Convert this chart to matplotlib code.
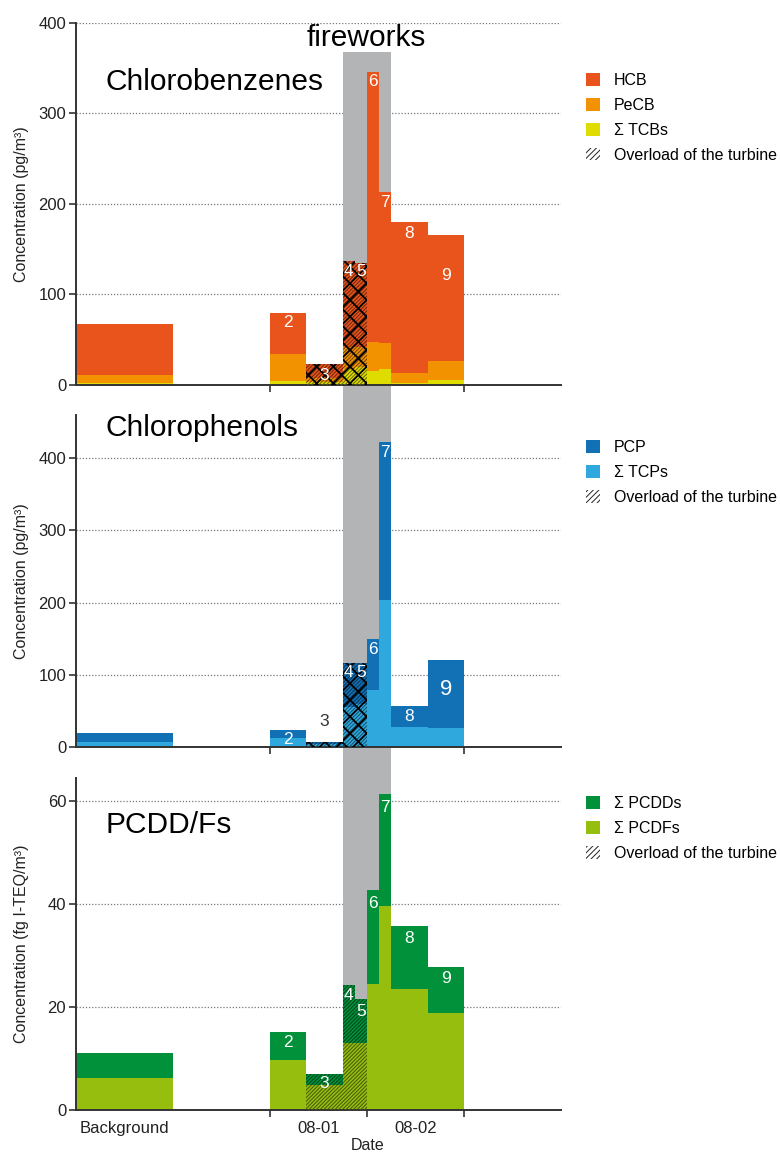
import matplotlib
matplotlib.use('Agg')
import matplotlib.pyplot as plt
from matplotlib.patches import Patch
import numpy as np

plt.rcParams['font.family'] = ['Liberation Sans', 'DejaVu Sans']
plt.rcParams['hatch.linewidth'] = 0.7

# sampling intervals in hours relative to 08-01 00:00 (first one = background period)
sample_ids = ['', '2', '3', '4', '5', '6', '7', '8', '9']
start_h = [-48, 0, 9, 18, 21, 24, 27, 30, 39]
end_h = [-24, 9, 18, 21, 24, 27, 30, 39, 48]
overload = [False, False, True, True, True, False, False, False, False]
fireworks_h = (18, 30)

# chlorobenzenes (pg/m3)
tcbs = [2.5, 4.5, 3, 18, 20, 15.5, 18, 2, 5]
pecb = [8.5, 29.5, 5, 24, 22, 32, 28.5, 11, 22]
hcb = [56, 46, 15, 95, 93, 298.5, 166.5, 167, 139]

# chlorophenols (pg/m3)
tcps = [7, 12, 4, 55, 60, 79, 204, 28, 26]
pcp = [12.5, 11, 3, 61, 57, 71, 218, 29, 95]

# PCDD/Fs (fg I-TEQ/m3)
pcdfs = [6.2, 9.7, 4.8, 13, 13, 24.5, 39.6, 23.5, 18.8]
pcdds = [4.8, 5.4, 2.2, 11.3, 8.5, 18.2, 21.8, 12.2, 9.0]

# where the sample numbers sit (data units)
cb_label_y = [None, 68.5, 11, 125, 125, 335, 202, 167, 121.5]
cp_label_y = [None, 9.7, 35, 103, 103, 135, 408, 42, 80]
pc_label_y = [None, 13.2, 5.2, 22.3, 19.2, 40.2, 58.8, 33.4, 25.6]

GREY = '#b3b4b6'
AXC = '#333333'
STRIPES = '/////////'


def darker(c, f=0.45):
    rgb = np.array(matplotlib.colors.to_rgb(c))
    return tuple(rgb * f)


def draw_panel(ax, layers, colors, names, label_y, ylim, yticks, ylabel,
               title, title_y, span_lim, legend_y, lattice=True,
               label_colors=None, label_sizes=None):
    x = np.array(start_h) / 24
    w = (np.array(end_h) - np.array(start_h)) / 24
    ov = np.array(overload)
    bottom = np.zeros(len(x))
    for vals, c in zip(layers, colors):
        vals = np.array(vals, dtype=float)
        ax.bar(x, vals, width=w, bottom=bottom, align='edge', color=c,
               lw=0, zorder=2)
        ax.bar(x[ov], vals[ov], width=w[ov], bottom=bottom[ov], align='edge',
               facecolor='none', edgecolor=darker(c), hatch=STRIPES, lw=0,
               zorder=3)
        bottom = bottom + vals
    if lattice:
        with plt.rc_context({'hatch.linewidth': 1.3}):
            ax.bar(x[ov], bottom[ov], width=w[ov], align='edge',
                   facecolor='none', edgecolor='black', hatch='xx', lw=0,
                   zorder=4)

    for i, s in enumerate(sample_ids):
        if not s:
            continue
        col = 'white' if label_colors is None else label_colors[i]
        fs = 12.5 if label_sizes is None else label_sizes[i]
        ax.text(x[i] + w[i] / 2, label_y[i], s, ha='center', va='center',
                color=col, fontsize=fs, zorder=5)

    ax.axvspan(fireworks_h[0] / 24, fireworks_h[1] / 24, ymin=span_lim[0],
               ymax=span_lim[1], color=GREY, lw=0, zorder=1, clip_on=False)

    ax.set_xlim(-2, 3)
    ax.set_ylim(*ylim)
    ax.set_yticks(yticks)
    ax.set_axisbelow(True)
    ax.grid(axis='y', linestyle=(0, (1, 1.5)), color='#777777', lw=0.9)
    ax.set_facecolor('none')
    for sp in ['top', 'right']:
        ax.spines[sp].set_visible(False)
    for sp in ['left', 'bottom']:
        ax.spines[sp].set_color(AXC)
        ax.spines[sp].set_linewidth(1.4)
    ax.set_xticks([0, 1, 2])
    ax.set_xticks([-1.5, 0.5, 1.5], minor=True)
    ax.tick_params(axis='x', which='major', labelbottom=False, length=5,
                   width=1.2, color=AXC)
    ax.tick_params(axis='x', which='minor', length=0, labelbottom=False)
    ax.tick_params(axis='y', length=5, width=1.2, color=AXC, labelsize=12,
                   labelcolor='#222222', pad=2)
    ax.set_ylabel(ylabel, fontsize=11.5, color='#222222')
    ax.yaxis.set_label_coords(-0.096, 0.5)
    ax.text(0.06, title_y, title, transform=ax.transAxes, fontsize=21.5,
            ha='left', va='center', color='black')

    handles = [Patch(facecolor=c, lw=0) for c in colors[::-1]]
    handles.append(Patch(facecolor='white', edgecolor='#222222',
                         hatch='//////', lw=0))
    ax.legend(handles, names[::-1] + ['Overload of the turbine'],
              loc='upper left', bbox_to_anchor=(1.052, legend_y),
              frameon=False, borderpad=0, borderaxespad=0, fontsize=11.5,
              handlelength=0.85, handleheight=0.85, handletextpad=0.85,
              labelspacing=0.62)


fig = plt.figure(figsize=(7.8, 11.54), dpi=100)
ax_top = fig.add_axes([0.0974, 0.6664, 0.622, 0.3137])
ax_mid = fig.add_axes([0.0974, 0.3527, 0.622, 0.2877])
ax_bot = fig.add_axes([0.0974, 0.0381, 0.622, 0.2877])

draw_panel(ax_top, [tcbs, pecb, hcb], ['#dedc00', '#f39200', '#e8541c'],
           ['\u03a3 TCBs', 'PeCB', 'HCB'], cb_label_y, (0, 400),
           [0, 100, 200, 300, 400], 'Concentration (pg/m\u00b3)',
           'Chlorobenzenes', 0.837, (-0.083, 0.92), 0.862)

cp_colors = ['white'] * len(sample_ids)
cp_colors[2] = '#333333'
cp_sizes = [12.5] * len(sample_ids)
cp_sizes[8] = 16
draw_panel(ax_mid, [tcps, pcp], ['#2fa8de', '#1270b5'],
           ['\u03a3 TCPs', 'PCP'], cp_label_y, (0, 460),
           [0, 100, 200, 300, 400], 'Concentration (pg/m\u00b3)',
           'Chlorophenols', 0.961, (-0.093, 1.0), 0.924,
           label_colors=cp_colors, label_sizes=cp_sizes)

draw_panel(ax_bot, [pcdfs, pcdds], ['#95be0f', '#00913a'],
           ['\u03a3 PCDFs', '\u03a3 PCDDs'], pc_label_y, (0, 64.5),
           [0, 20, 40, 60], 'Concentration (fg I-TEQ/m\u00b3)',
           'PCDD/Fs', 0.858, (0.0, 1.0), 0.945, lattice=False)

ax_bot.set_xticklabels(['Background', '08-01', '08-02'], minor=True)
ax_bot.tick_params(axis='x', which='minor', labelbottom=True, labelsize=12,
                   labelcolor='#222222', pad=8)
ax_bot.set_xlabel('Date', fontsize=11.5, color='#222222', x=0.602, labelpad=1)

fig.text(366 / 780, 1 - 38 / 1154, 'fireworks', ha='center', va='center',
         fontsize=21.5, color='black')

fig.savefig('out.png', dpi=100)
